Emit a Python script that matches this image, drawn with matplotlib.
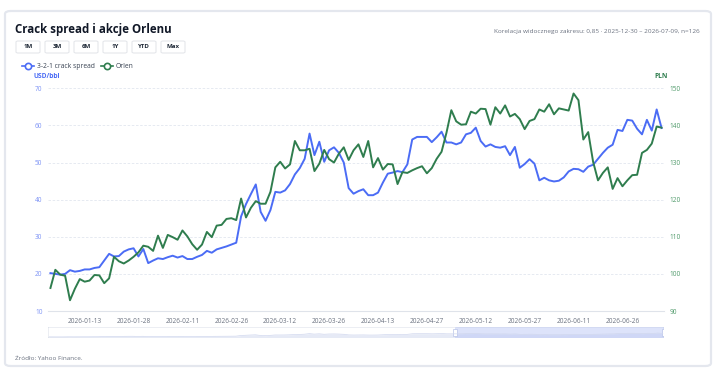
import numpy as np
import matplotlib
matplotlib.use('Agg')
import matplotlib.pyplot as plt
from matplotlib.patches import FancyBboxPatch, Rectangle
from matplotlib.lines import Line2D

plt.rcParams['font.family'] = ['Open Sans', 'DejaVu Sans']

# 3-2-1 crack spread, USD/bbl (126 sessions, 2025-12-30 .. 2026-07-09)
crack = [20.2, 20.0, 19.8, 20.0, 21.0, 20.6, 20.8, 21.2, 21.2, 21.6,
         21.8, 23.6, 25.4, 24.7, 24.8, 26.0, 26.6, 26.9, 24.7, 26.7,
         22.9, 23.6, 24.2, 24.0, 24.5, 24.9, 24.4, 24.8, 24.0, 24.0,
         24.6, 25.1, 26.2, 25.7, 26.6, 27.0, 27.4, 27.9, 28.4, 35.5,
         38.8, 41.5, 44.1, 36.7, 34.3, 37.2, 42.1, 41.9, 42.5, 44.2,
         46.8, 48.5, 51.0, 57.8, 52.0, 55.6, 50.2, 53.3, 54.1, 52.6,
         50.0, 43.1, 41.6, 42.3, 42.8, 41.2, 41.2, 41.9, 44.6, 47.0,
         47.3, 47.7, 47.4, 49.5, 56.2, 56.9, 56.9, 56.9, 55.5, 56.8,
         58.3, 55.4, 55.4, 54.9, 55.4, 57.6, 58.0, 59.4, 55.8, 54.3,
         54.9, 54.2, 54.0, 54.4, 52.0, 54.2, 48.6, 49.6, 50.9, 49.7,
         45.2, 45.9, 45.2, 44.9, 45.1, 46.0, 47.6, 48.3, 48.2, 47.5,
         48.9, 49.4, 51.0, 52.6, 54.0, 54.8, 58.8, 58.5, 61.5, 61.3,
         59.1, 57.6, 61.5, 58.6, 64.3, 59.3]

# Orlen share price, PLN
orlen = [96.2, 101.1, 99.8, 99.5, 92.9, 96.0, 98.6, 97.9, 98.2, 99.7,
         99.6, 97.5, 98.8, 104.6, 103.4, 102.8, 103.6, 104.6, 105.8, 107.6,
         107.3, 106.2, 110.3, 107.0, 110.5, 109.9, 109.2, 111.7, 110.1, 108.0,
         106.5, 107.9, 111.3, 109.9, 113.0, 113.2, 114.8, 115.0, 114.5, 120.3,
         115.2, 117.8, 119.6, 118.9, 118.9, 122.1, 128.7, 130.2, 128.4, 129.5,
         135.8, 133.3, 133.3, 133.7, 127.7, 129.7, 133.4, 130.9, 130.0, 132.4,
         134.1, 130.7, 133.3, 134.9, 131.5, 135.8, 128.7, 131.2, 128.1, 129.6,
         129.5, 124.2, 127.4, 127.2, 127.9, 128.5, 129.0, 127.1, 128.5, 131.0,
         132.9, 138.0, 144.1, 141.1, 140.2, 140.3, 143.7, 143.2, 144.5, 144.4,
         140.2, 144.9, 143.2, 145.4, 142.4, 143.1, 141.7, 139.0, 141.2, 141.7,
         144.3, 143.7, 145.7, 143.0, 144.6, 144.3, 144.0, 148.6, 146.8, 136.2,
         138.2, 130.2, 125.2, 127.2, 128.7, 122.9, 125.8, 123.6, 125.2, 126.6,
         126.7, 132.6, 133.4, 135.1, 139.7, 139.4]

tick_labels = ['2026-01-13', '2026-01-28', '2026-02-11', '2026-02-26', '2026-03-12',
               '2026-03-26', '2026-04-13', '2026-04-27', '2026-05-12', '2026-05-27',
               '2026-06-11', '2026-06-26']
left_ticks = [10, 20, 30, 40, 50, 60, 70]
right_ticks = [90, 100, 110, 120, 130, 140, 150]

BLUE = '#4b6cf5'
GREEN = '#2f7d4e'
W, H = 720, 379

fig = plt.figure(figsize=(W / 100, H / 100), dpi=100)
fig.patch.set_facecolor('white')

# card
card = FancyBboxPatch((5 / W, 1 - 366 / H), 706 / W, 355 / H,
                      boxstyle='round,pad=0,rounding_size=0.008',
                      transform=fig.transFigure, facecolor='white',
                      edgecolor='#e4e7ee', linewidth=1.6, zorder=-10)
fig.patches.append(card)

fig.text(15 / W, 1 - 29 / H, 'Crack spread i akcje Orlenu', fontsize=8.3,
         fontweight='bold', color='#111827', va='center')
fig.text(700 / W, 1 - 31 / H,
         'Korelacja widocznego zakresu: 0,85 · 2025-12-30 – 2026-07-09, n=126',
         fontsize=4.6, color='#6b7280', ha='right', va='center')

# range buttons
buttons = ['1M', '3M', '6M', '1Y', 'YTD', 'Max']
bx = 16
for b in buttons:
    bw = 24
    rect = FancyBboxPatch((bx / W, 1 - 53 / H), bw / W, 12 / H,
                          boxstyle='round,pad=0,rounding_size=0.003',
                          transform=fig.transFigure, facecolor='white',
                          edgecolor='#e5e7eb', linewidth=0.8, zorder=-5)
    fig.patches.append(rect)
    fig.text((bx + bw / 2) / W, 1 - 47 / H, b, fontsize=4.4, fontweight='bold',
             color='#1f2937', ha='center', va='center')
    bx += 29

# legend
for lx, col, name in [(22, BLUE, '3-2-1 crack spread'), (101, GREEN, 'Orlen')]:
    fig.lines.append(Line2D([lx / W, (lx + 12) / W], [1 - 66 / H] * 2,
                            transform=fig.transFigure, color=col, lw=1.2, zorder=3))
    fig.lines.append(Line2D([(lx + 6) / W], [1 - 66 / H], transform=fig.transFigure,
                            color=col, marker='o', markersize=4.5,
                            markerfacecolor='white', markeredgewidth=1.2, zorder=4))
    fig.text((lx + 15) / W, 1 - 66 / H, name, fontsize=4.9, color='#374151',
             va='center')

fig.text(34 / W, 1 - 77 / H, 'USD/bbl', fontsize=4.8, fontweight='bold',
         color=BLUE, va='center')
fig.text(661 / W, 1 - 77 / H, 'PLN', fontsize=4.8, fontweight='bold',
         color=GREEN, va='center', ha='center')

# main chart
ax = fig.add_axes([48 / W, 1 - 311 / H, 616 / W, 222.7 / H])
ax2 = ax.twinx()
x = np.arange(len(crack))
ax.plot(x, crack, color=BLUE, lw=1.4, zorder=3)
ax2.plot(x, orlen, color=GREEN, lw=1.4, zorder=3)

ax.set_xlim(-0.5, len(crack) - 0.5)
ax.set_ylim(10, 70)
ax2.set_ylim(90, 150)
ax.set_yticks(left_ticks)
ax2.set_yticks(right_ticks)
ax.set_xticks(range(7, len(crack), 10))
ax.set_xticklabels(tick_labels)
ax.grid(axis='y', color='#e2e6ef', linestyle=(0, (3, 2)), linewidth=0.6)
for a in (ax, ax2):
    for s in a.spines.values():
        s.set_visible(False)
    a.set_facecolor('none')
ax.spines['bottom'].set_visible(True)
ax.spines['bottom'].set_color('#dfe3ea')
ax.tick_params(axis='x', length=0, labelsize=4.7, labelcolor='#6b7280', pad=5)
ax.tick_params(axis='y', length=0, labelsize=4.7, labelcolor='#7d93f5', pad=4)
ax2.tick_params(axis='y', length=0, labelsize=4.7, labelcolor='#4f9a6a', pad=4)

# data zoom slider
sl = fig.add_axes([48 / W, 1 - 338 / H, 616 / W, 11 / H])
sl.set_xlim(0, 1)
sl.set_ylim(0, 1)
sl.axis('off')
sl.add_patch(FancyBboxPatch((0, 0), 1, 1, boxstyle='round,pad=0,rounding_size=0.004',
                            facecolor='white', edgecolor='#dde2ea', linewidth=0.8))
xs = np.linspace(0.002, 0.998, len(crack))
cv = np.array(crack)
sy = 0.1 + 0.35 * (cv - cv.min()) / (cv.max() - cv.min())
sl.fill_between(xs, 0.05, sy, color='#e6eaf6', lw=0)
sl.plot(xs, sy, color='#d0d7ee', lw=0.5)
sl.add_patch(Rectangle((0.661, 0), 0.339, 1, facecolor='#b4c2f6', alpha=0.45,
                       edgecolor='#c0cbf2', lw=0.6))
for hx in (0.661, 0.999):
    sl.add_patch(Rectangle((hx - 0.003, 0.15), 0.006, 0.7, facecolor='white',
                           edgecolor='#b8c3e8', lw=0.5))

fig.text(15 / W, 1 - 358 / H, 'Źródło: Yahoo Finance.', fontsize=4.6,
         color='#6b7280', va='center')

fig.savefig('out.png', dpi=100)
